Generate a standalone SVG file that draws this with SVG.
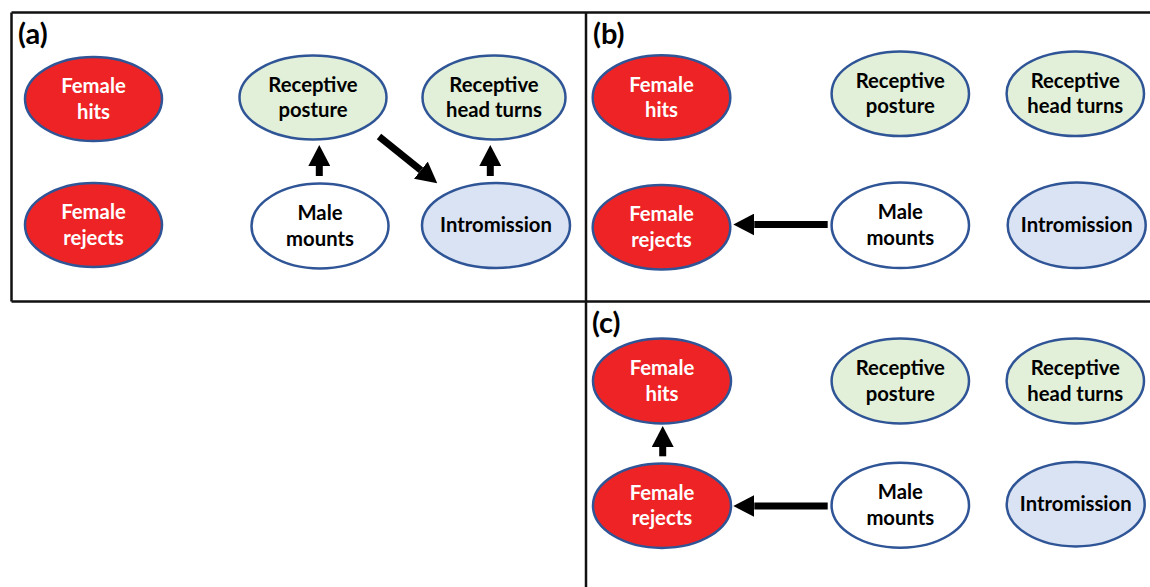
<svg xmlns="http://www.w3.org/2000/svg" width="1150" height="587" viewBox="0 0 1150 587">
<style>
.frame{stroke:#111;stroke-width:2.5;fill:none}
.n{stroke:#2F5597;stroke-width:2.5}
.red{fill:#EE2326}
.green{fill:#E2F0D9}
.blue{fill:#DAE3F3}
.white{fill:#FFFFFF}
text{font-family:Lato,"Open Sans","Liberation Sans",sans-serif;font-weight:bold;font-size:20.3px;text-anchor:middle}
.tw{fill:#FFFFFF}
.tb{fill:#000000}
.lab{font-size:29px;text-anchor:start;fill:#000}
.arr{stroke:#000;stroke-width:7;fill:none;marker-end:url(#ah)}
</style>
<defs>
<marker id="ah" markerUnits="userSpaceOnUse" markerWidth="21" markerHeight="22" refX="0" refY="11" orient="auto" viewBox="0 0 21 22">
<path d="M0,0 L21,11 L0,22 Z" fill="#000"/>
</marker>
</defs>
<rect width="1150" height="587" fill="#FFFFFF"/>
<g id="frames">
<path class="frame" d="M11.5,12.5 H1150 M11.5,301.5 H1150 M11.5,12.5 V301.5 M586,12.5 V587"/>
</g>
<g id="labels">
<text class="lab" x="18" y="44">(a)</text>
<text class="lab" x="593" y="44">(b)</text>
<text class="lab" x="592" y="333">(c)</text>
</g>
<!-- Panel a -->
<g id="a-female-hits"><ellipse class="n red" cx="93.5" cy="99" rx="68.5" ry="42"/><text class="tw" x="93.5" y="93">Female</text><text class="tw" x="93.5" y="118.5">hits</text></g>
<g id="a-female-rejects"><ellipse class="n red" cx="93.5" cy="225" rx="68.5" ry="42"/><text class="tw" x="93.5" y="219">Female</text><text class="tw" x="93.5" y="244.5">rejects</text></g>
<g id="a-receptive-posture"><ellipse class="n green" cx="313" cy="97.5" rx="73.5" ry="42"/><text class="tb" x="313" y="91.5">Receptive</text><text class="tb" x="313" y="117">posture</text></g>
<g id="a-receptive-head-turns"><ellipse class="n green" cx="494" cy="97.5" rx="71.5" ry="42"/><text class="tb" x="494" y="91.5">Receptive</text><text class="tb" x="494" y="117">head turns</text></g>
<g id="a-male-mounts"><ellipse class="n white" cx="320" cy="226" rx="68.5" ry="42.5"/><text class="tb" x="320" y="220">Male</text><text class="tb" x="320" y="245.5">mounts</text></g>
<g id="a-intromission"><ellipse class="n blue" cx="496" cy="225.5" rx="74" ry="42.5"/><text class="tb" x="496" y="232">Intromission</text></g>
<!-- Panel b -->
<g id="b-female-hits"><ellipse class="n red" cx="661.5" cy="97.5" rx="68.8" ry="42.2"/><text class="tw" x="661.5" y="91.5">Female</text><text class="tw" x="661.5" y="117">hits</text></g>
<g id="b-female-rejects"><ellipse class="n red" cx="661.5" cy="227.3" rx="68.8" ry="42.2"/><text class="tw" x="661.5" y="221.3">Female</text><text class="tw" x="661.5" y="246.8">rejects</text></g>
<g id="b-receptive-posture"><ellipse class="n green" cx="900.3" cy="93.7" rx="68.7" ry="42.3"/><text class="tb" x="900.3" y="87.7">Receptive</text><text class="tb" x="900.3" y="113.2">posture</text></g>
<g id="b-receptive-head-turns"><ellipse class="n green" cx="1075.3" cy="93.7" rx="68.7" ry="42.3"/><text class="tb" x="1075.3" y="87.7">Receptive</text><text class="tb" x="1075.3" y="113.2">head turns</text></g>
<g id="b-male-mounts"><ellipse class="n white" cx="900.3" cy="225.3" rx="68.7" ry="42.7"/><text class="tb" x="900.3" y="219.3">Male</text><text class="tb" x="900.3" y="244.8">mounts</text></g>
<g id="b-intromission"><ellipse class="n blue" cx="1076.7" cy="225.3" rx="69" ry="42.7"/><text class="tb" x="1076.7" y="232">Intromission</text></g>
<!-- Panel c -->
<g id="c-female-hits"><ellipse class="n red" cx="662" cy="381" rx="69" ry="42.5"/><text class="tw" x="662" y="375">Female</text><text class="tw" x="662" y="400.5">hits</text></g>
<g id="c-female-rejects"><ellipse class="n red" cx="662" cy="505.7" rx="69" ry="42.2"/><text class="tw" x="662" y="499.7">Female</text><text class="tw" x="662" y="525.2">rejects</text></g>
<g id="c-receptive-posture"><ellipse class="n green" cx="900.3" cy="381" rx="68.7" ry="42.5"/><text class="tb" x="900.3" y="375">Receptive</text><text class="tb" x="900.3" y="400.5">posture</text></g>
<g id="c-receptive-head-turns"><ellipse class="n green" cx="1075.3" cy="381" rx="68.7" ry="42.5"/><text class="tb" x="1075.3" y="375">Receptive</text><text class="tb" x="1075.3" y="400.5">head turns</text></g>
<g id="c-male-mounts"><ellipse class="n white" cx="900.3" cy="505.2" rx="68.7" ry="42.5"/><text class="tb" x="900.3" y="499.2">Male</text><text class="tb" x="900.3" y="524.7">mounts</text></g>
<g id="c-intromission"><ellipse class="n blue" cx="1075.7" cy="504.2" rx="69" ry="42.2"/><text class="tb" x="1075.7" y="510.7">Intromission</text></g>
<g id="connectors">
<line class="arr" x1="319.3" y1="176" x2="319.3" y2="166"/>
<line class="arr" x1="490.3" y1="176" x2="490.3" y2="166"/>
<line class="arr" x1="379" y1="136.5" x2="420.9" y2="170.2"/>
<line class="arr" x1="827.7" y1="224.5" x2="754.3" y2="224.5"/>
<line class="arr" x1="662.7" y1="456.3" x2="662.7" y2="447"/>
<line class="arr" x1="827.7" y1="506" x2="754.3" y2="506"/>
</g>
</svg>
